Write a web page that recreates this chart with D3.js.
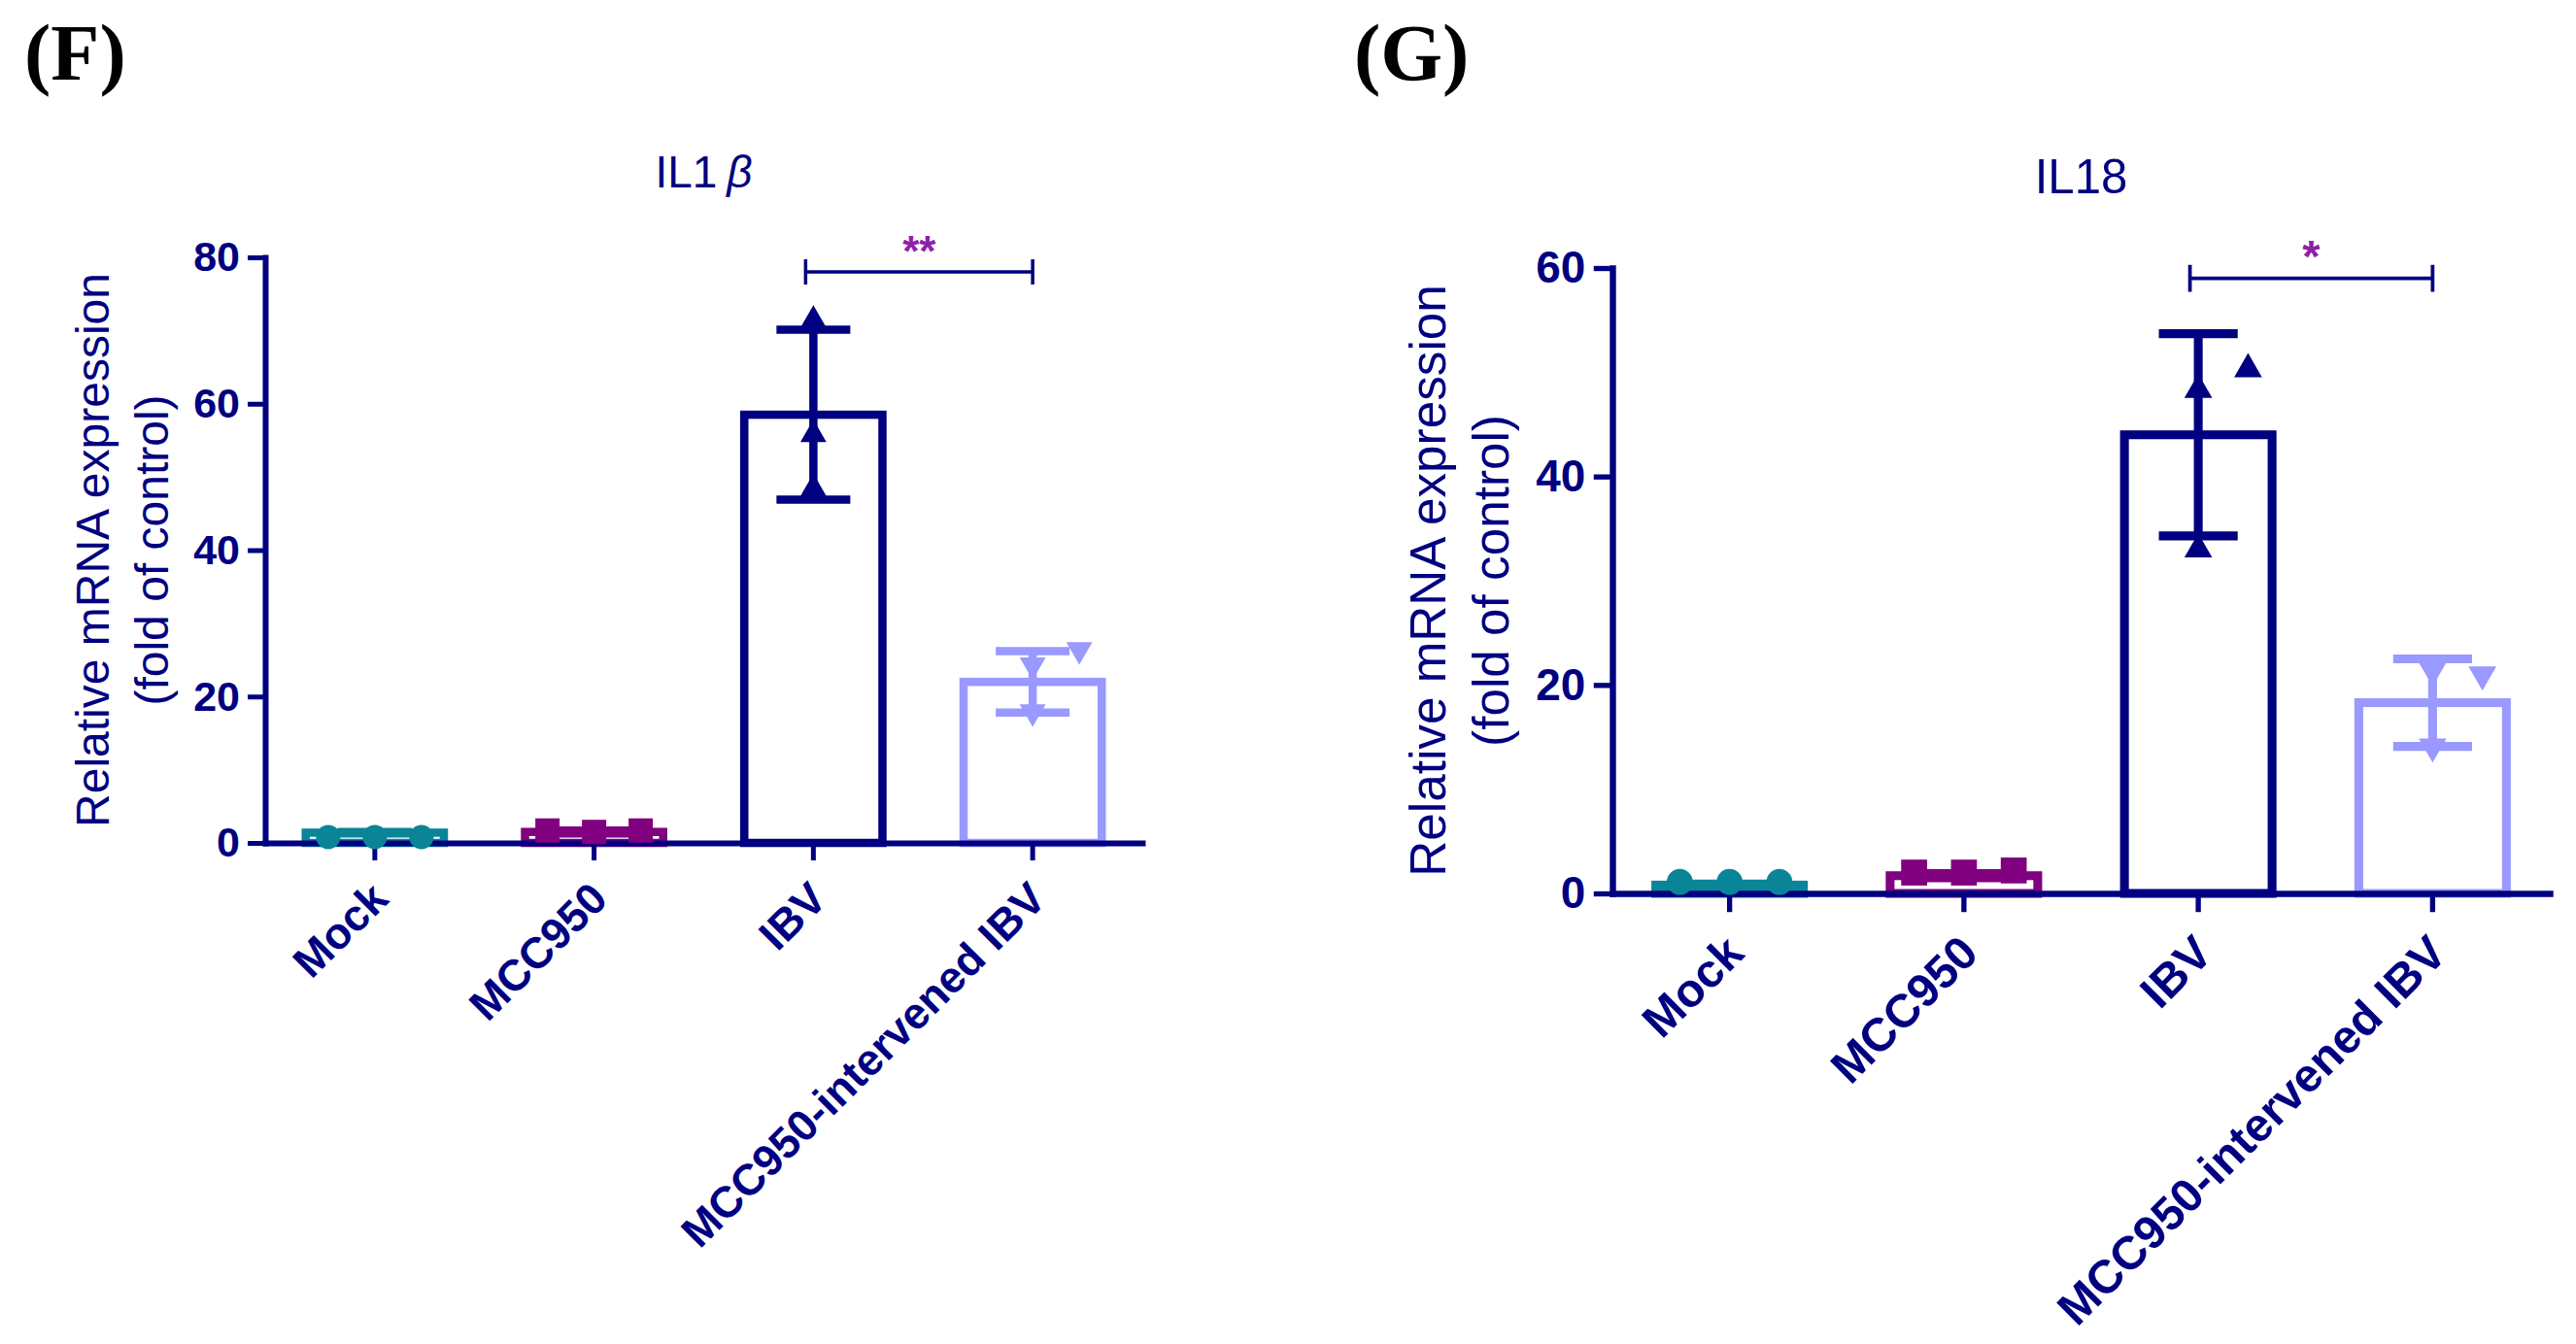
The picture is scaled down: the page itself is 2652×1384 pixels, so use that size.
<!DOCTYPE html>
<html>
<head>
<meta charset="utf-8">
<script src="https://cdn.jsdelivr.net/npm/d3@7"></script>
<style>
body{margin:0;background:#fff}
svg{display:block}
</style>
</head>
<body>
<svg id="chart" width="2652" height="1384"></svg>
<script>
const groups = ["Mock", "MCC950", "IBV", "MCC950-intervened IBV"]
const groupColors = ["#0a8597", "#800080", "#000080", "#9999ff"]
const groupSymbols = ["circle", "square", "triangle", "triangleDown"]

// IL1β, fold of control
const il1bMeans = [1.4, 1.5, 58.5, 22.0]
const il1bSD = [0.1, 0.2, 11.6, 4.2]
const il1bPoints = [[0.8, 0.8, 0.8], [1.5, 1.7, 1.7], [71.4, 55.8, 48.4], [24.3, 26.4, 17.9]]
const il1bTicks = [0, 20, 40, 60, 80]
const il1bSig = {from: "IBV", to: "MCC950-intervened IBV", level: 78, label: "**"}

// IL18, fold of control
const il18Means = [0.8, 1.7, 44.0, 18.3]
const il18SD = [0.1, 0.2, 9.7, 4.2]
const il18Points = [[1.1, 1.1, 1.1], [2.0, 2.2, 2.0], [48.3, 50.3, 33.0], [21.4, 21.0, 14.1]]
const il18Ticks = [0, 20, 40, 60]
const il18Sig = {from: "IBV", to: "MCC950-intervened IBV", level: 59, label: "*"}

const navy = "#000080"
const sans = "'Liberation Sans', Arial, sans-serif"
const svg = d3.select("#chart")

svg.append("rect").attr("width", 2652).attr("height", 1384).attr("fill", "#fff")

const symbolTypes = {
	circle: d3.symbolCircle,
	square: d3.symbolSquare,
	triangle: d3.symbolTriangle,
	triangleDown: d3.symbolTriangle
}

// spread points that would overlap, like the scatter in the bars
function dodge(vals, y, size){
	const placed = []
	return vals.map(v=>{
		const py = y(v)
		for(const slot of [0, 1, -1, 2, -2]){
			if(!placed.some(p=>p.slot===slot && Math.abs(p.py-py)<size)){
				placed.push({slot: slot, py: py})
				return {v: v, slot: slot}
			}
		}
		return {v: v, slot: 0}
	})
}

function drawPanel(cfg){
	const k = cfg.k
	const g = svg.append("g")

	const x = d3.scaleBand()
		.domain(groups)
		.range([cfg.left, cfg.right])
		.paddingInner(0.37)
		.paddingOuter(0.185)
	const y = d3.scaleLinear()
		.domain([0, d3.max(cfg.ticks)])
		.range([cfg.bottom, cfg.top])
	const bw = x.bandwidth()
	const cx = d=>x(d)+bw/2

	// panel letter
	svg.append("text")
		.attr("x", cfg.letterX)
		.attr("y", 82)
		.attr("font-family", "'Liberation Serif', 'Times New Roman', serif")
		.attr("font-weight", "bold")
		.attr("font-size", 82)
		.attr("fill", "#000")
		.text(cfg.letter)

	// title
	const title = g.append("text")
		.attr("x", (cfg.left+cfg.right)/2)
		.attr("y", cfg.titleY)
		.attr("text-anchor", "middle")
		.attr("font-family", sans)
		.attr("font-size", 46*k)
		.attr("fill", navy)
	title.append("tspan").text(cfg.title)
	if(cfg.titleItalic)
		title.append("tspan")
			.attr("dx", 10*k)
			.attr("font-style", "italic")
			.text(cfg.titleItalic)

	// bars
	g.selectAll("rect.bar")
		.data(groups)
		.join("rect")
		.attr("class", "bar")
		.attr("x", d=>x(d))
		.attr("width", bw)
		.attr("y", (d, i)=>y(cfg.means[i]))
		.attr("height", (d, i)=>y(0)-y(cfg.means[i]))
		.attr("fill", "#fff")
		.attr("stroke", (d, i)=>groupColors[i])
		.attr("stroke-width", 8.5*k)

	// axes
	const yAxis = g.append("g")
		.attr("transform", `translate(${cfg.left},0)`)
		.call(d3.axisLeft(y).tickValues(cfg.ticks).tickSize(18*k).tickSizeOuter(0).tickPadding(8*k))
	const xAxis = g.append("g")
		.attr("transform", `translate(0,${cfg.bottom})`)
		.call(d3.axisBottom(x).tickSize(18*k).tickSizeOuter(0))
	;[yAxis, xAxis].forEach(a=>{
		a.select(".domain")
			.attr("stroke", navy)
			.attr("stroke-width", 6*k)
			.attr("stroke-linecap", "square")
		a.selectAll(".tick line")
			.attr("stroke", navy)
			.attr("stroke-width", 5*k)
		a.selectAll(".tick text")
			.attr("fill", navy)
			.attr("font-family", sans)
			.attr("font-weight", "bold")
			.attr("font-size", 43*k)
	})
	xAxis.selectAll(".tick text")
		.attr("x", 0)
		.attr("y", 0)
		.attr("dy", 0)
		.attr("font-size", 45*k)
		.attr("text-anchor", "end")
		.attr("transform", `translate(${16*k},${60*k}) rotate(-45)`)

	// y label
	const mid = (cfg.top+cfg.bottom)/2
	;[["Relative mRNA expression", 161], ["(fold of control)", 100]].forEach(([t, off])=>{
		g.append("text")
			.attr("transform", `translate(${cfg.left-off*k},${mid}) rotate(-90)`)
			.attr("text-anchor", "middle")
			.attr("font-family", sans)
			.attr("font-size", 48*k)
			.attr("fill", navy)
			.text(t)
	})

	// individual points
	const msize = 25*k
	groups.forEach((grp, i)=>{
		const pts = dodge(cfg.points[i], y, msize)
		const sym = d3.symbol().type(symbolTypes[groupSymbols[i]])
		let area = msize*msize
		if(groupSymbols[i]==="circle") area = Math.PI*msize*msize/4
		if(groupSymbols[i].startsWith("triangle")) area = Math.sqrt(3)/4*msize*msize*1.15
		g.selectAll(null)
			.data(pts)
			.join("path")
			.attr("d", sym.size(area)())
			.attr("transform", d=>`translate(${cx(grp)+d.slot*48*k},${y(d.v)})`+(groupSymbols[i]==="triangleDown"?" rotate(180)":""))
			.attr("fill", groupColors[i])
	})

	// error bars (mean ± SD)
	const cap = 38*k
	groups.forEach((grp, i)=>{
		const m = cfg.means[i], s = cfg.sd[i]
		const px = cx(grp)
		g.append("path")
			.attr("d", `M${px},${y(m+s)}V${y(m-s)}M${px-cap},${y(m+s)}H${px+cap}M${px-cap},${y(m-s)}H${px+cap}`)
			.attr("fill", "none")
			.attr("stroke", groupColors[i])
			.attr("stroke-width", 8.5*k)
	})

	// significance bracket
	const sig = cfg.sig
	const x1 = cx(sig.from)-8*k, x2 = cx(sig.to), yb = y(sig.level)
	g.append("path")
		.attr("d", `M${x1},${yb-13*k}V${yb+13*k}M${x1},${yb}H${x2}M${x2},${yb-13*k}V${yb+13*k}`)
		.attr("fill", "none")
		.attr("stroke", navy)
		.attr("stroke-width", 3.5*k)
	g.append("text")
		.attr("x", (x1+x2)/2)
		.attr("y", yb-6*k)
		.attr("text-anchor", "middle")
		.attr("font-family", sans)
		.attr("font-weight", "bold")
		.attr("font-size", 44*k)
		.attr("fill", "#8f1fa8")
		.text(sig.label)
}

drawPanel({
	letter: "(F)", letterX: 25,
	title: "IL1", titleItalic: "β", titleY: 193,
	left: 273, right: 1176, top: 265, bottom: 868, k: 1,
	means: il1bMeans, sd: il1bSD, points: il1bPoints, ticks: il1bTicks, sig: il1bSig
})
drawPanel({
	letter: "(G)", letterX: 1394,
	title: "IL18", titleY: 199,
	left: 1660, right: 2625, top: 276, bottom: 920, k: 1.068,
	means: il18Means, sd: il18SD, points: il18Points, ticks: il18Ticks, sig: il18Sig
})
</script>
</body>
</html>
